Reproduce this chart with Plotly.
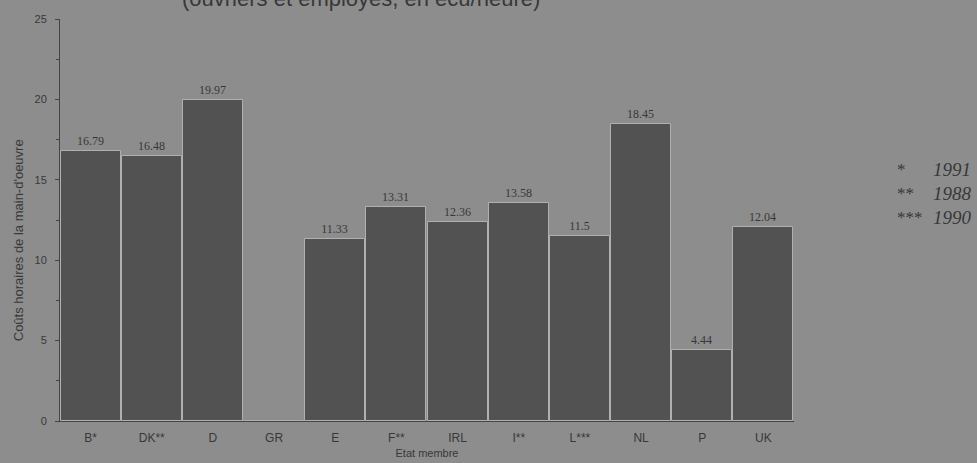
import plotly.graph_objects as go

# Hourly labour costs by member state
countries = ["B*", "DK**", "D", "GR", "E", "F**", "IRL", "I**", "L***", "NL", "P", "UK"]
costs = [16.79, 16.48, 19.97, 0, 11.33, 13.31, 12.36, 13.58, 11.5, 18.45, 4.44, 12.04]
value_labels = ["16.79", "16.48", "19.97", "", "11.33", "13.31", "12.36", "13.58", "11.5", "18.45", "4.44", "12.04"]
footnotes = [("*", "1991"), ("**", "1988"), ("***", "1990")]

BG = "#8d8d8d"
BAR = "#525252"
INK = "#383838"
SANS = "Liberation Sans, Arial, sans-serif"
SERIF = "Liberation Serif, Times New Roman, serif"

fig = go.Figure(go.Bar(
    x=countries,
    y=costs,
    text=value_labels,
    textposition="outside",
    textfont=dict(family=SERIF, size=12, color=INK),
    cliponaxis=False,
    marker=dict(color=BAR, line=dict(color="#b0b0b0", width=1)),
    width=0.98,
))

fig.update_layout(
    width=977, height=463,
    margin=dict(l=60, r=183, t=19, b=42),
    paper_bgcolor=BG, plot_bgcolor=BG,
    showlegend=False,
    bargap=0,
    uniformtext=dict(minsize=12, mode="show"),
    font=dict(family=SANS, color=INK),
)

fig.update_xaxes(
    range=[-0.5, 11.5], automargin=False,
    showgrid=False, zeroline=False,
    showline=True, linecolor="#444444", linewidth=1,
    ticks="", ticklabelstandoff=6,
    tickfont=dict(family=SANS, size=12, color=INK),
    title=dict(text="Etat membre", font=dict(family=SANS, size=11, color=INK), standoff=4),
)
fig.update_yaxes(
    range=[0, 25], dtick=5, automargin=False,
    showgrid=False, zeroline=False,
    showline=True, linecolor="#444444", linewidth=1,
    ticks="outside", ticklen=4, tickcolor="#444444",
    minor=dict(dtick=2.5, ticks="outside", ticklen=3, tickcolor="#444444"),
    ticklabelstandoff=6,
    tickfont=dict(family=SANS, size=11, color=INK),
)

annotations = [
    dict(text="Coûts horaires de la main-d'oeuvre", xref="paper", yref="paper",
         x=-0.057, y=0.45, xanchor="center", yanchor="middle", textangle=-90, showarrow=False,
         font=dict(family=SANS, size=13, color=INK)),
    dict(text="(ouvriers et employés, en écu/heure)", xref="paper", yref="paper",
         x=0.41, y=1.015, xanchor="center", yanchor="bottom", showarrow=False,
         font=dict(family=SANS, size=22, color=INK)),
]
for i, (mark, year) in enumerate(footnotes):
    yp = 0.626 - i * 0.0595
    annotations.append(dict(text=mark, xref="paper", yref="paper", x=1.1376, y=yp,
                            xanchor="left", yanchor="middle", showarrow=False,
                            font=dict(family=SERIF, size=17, color=INK)))
    annotations.append(dict(text="<i>" + year + "</i>", xref="paper", yref="paper", x=1.187, y=yp,
                            xanchor="left", yanchor="middle", showarrow=False,
                            font=dict(family=SERIF, size=19, color=INK)))
fig.update_layout(annotations=annotations)

fig.write_html("out.html")
